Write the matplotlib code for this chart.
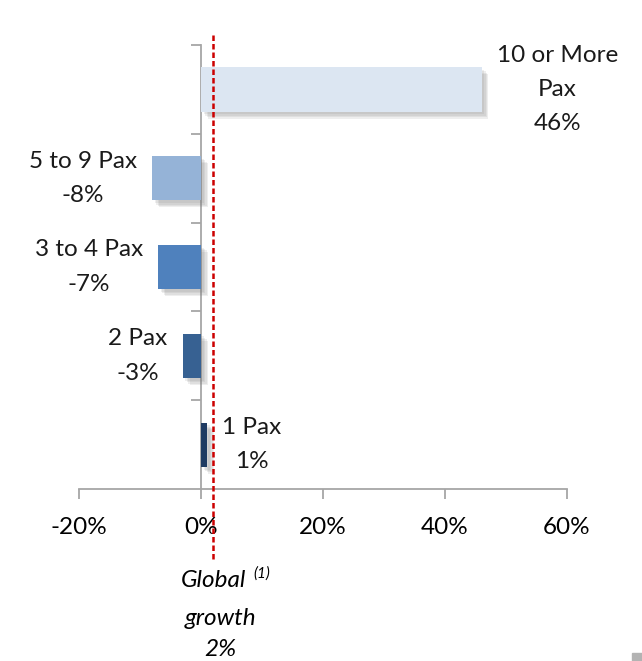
import matplotlib
matplotlib.use("Agg")
import matplotlib.pyplot as plt
import matplotlib.patheffects as pe
from matplotlib.patches import Rectangle
from matplotlib.ticker import FuncFormatter

plt.rcParams['font.family'] = ['Lato', 'DejaVu Sans']

# Growth by party size, bottom to top
categories = ["1 Pax", "2 Pax", "3 to 4 Pax", "5 to 9 Pax", "10 or More\nPax"]
growth = [1, -3, -7, -8, 46]
colors = ["#1F3B62", "#376192", "#4F81BD", "#95B3D7", "#DCE6F2"]
global_growth = 2
x_ticks = [-20, 0, 20, 40, 60]

FS = 17.5
LS = 1.78

fig = plt.figure(figsize=(6.42, 6.61), dpi=100)
ax = fig.add_axes([0.123, 0.260, 0.760, 0.672])

ypos = list(range(len(categories)))
bars = ax.barh(ypos, growth, height=0.5, color=colors, zorder=3)
# soft drop shadow built from stacked offsets
shadow = [pe.SimplePatchShadow(offset=(d, -d), shadow_rgbFace="#7f7f7f", alpha=0.13)
          for d in (5, 4, 3, 2)]
for b in bars:
    b.set_path_effects(shadow + [pe.Normal()])

ax.set_xlim(-20, 60)
ax.set_ylim(-0.5, len(categories) - 0.5)

# axes styling
axis_col = "#A6A6A6"
for s in ("top", "right"):
    ax.spines[s].set_visible(False)
ax.spines["left"].set_position(("data", 0))
ax.spines["left"].set_color(axis_col)
ax.spines["bottom"].set_color(axis_col)
ax.spines["left"].set_linewidth(1.3)
ax.spines["bottom"].set_linewidth(1.3)

ax.set_xticks(x_ticks)
ax.xaxis.set_major_formatter(FuncFormatter(lambda v, p: f"{v:.0f}%"))
ax.tick_params(axis="x", direction="out", length=7, width=1.3, color=axis_col,
               labelsize=FS, pad=13, labelcolor="#000000")
ax.set_yticks([i + 0.5 for i in range(len(categories))])
ax.set_yticklabels([])
ax.tick_params(axis="y", direction="out", length=7, width=1.3, color=axis_col)

# value labels beside each bar
for y, cat, v in zip(ypos, categories, growth):
    txt = f"{cat}\n{v}%"
    if v >= 0:
        ax.annotate(txt, (v, y), xytext=(11, 0), textcoords="offset points",
                    ha="left", va="center", multialignment="center",
                    fontsize=FS, linespacing=LS, color="#1a1a1a")
    else:
        ax.annotate(txt, (v, y), xytext=(-11, 0), textcoords="offset points",
                    ha="right", va="center", multialignment="center",
                    fontsize=FS, linespacing=LS, color="#1a1a1a")

# global growth reference line
trans = ax.get_xaxis_transform()
ax.plot([global_growth, global_growth], [1.022, -0.164], transform=trans,
        color="#CC0000", lw=1.8, ls=(0, (2.2, 1.2)), clip_on=False, zorder=4)

ax.annotate("Global", (global_growth, -0.205), xycoords=trans,
            xytext=(0, 0), textcoords="offset points",
            ha="center", va="center", fontsize=FS, style="italic")
ax.annotate("(1)", (global_growth, -0.205), xycoords=trans,
            xytext=(29, 5), textcoords="offset points",
            ha="left", va="center", fontsize=11, style="italic")
ax.annotate(f"growth\n{global_growth}%", (global_growth, -0.205), xycoords=trans,
            xytext=(5, -20), textcoords="offset points",
            ha="center", va="top", multialignment="center",
            fontsize=FS, style="italic", linespacing=1.6)

fig.patches.append(Rectangle((632 / 642, 0), 10 / 642, 8 / 661,
                             transform=fig.transFigure, color="#B3B3B3"))

fig.savefig("out.png", dpi=100)
